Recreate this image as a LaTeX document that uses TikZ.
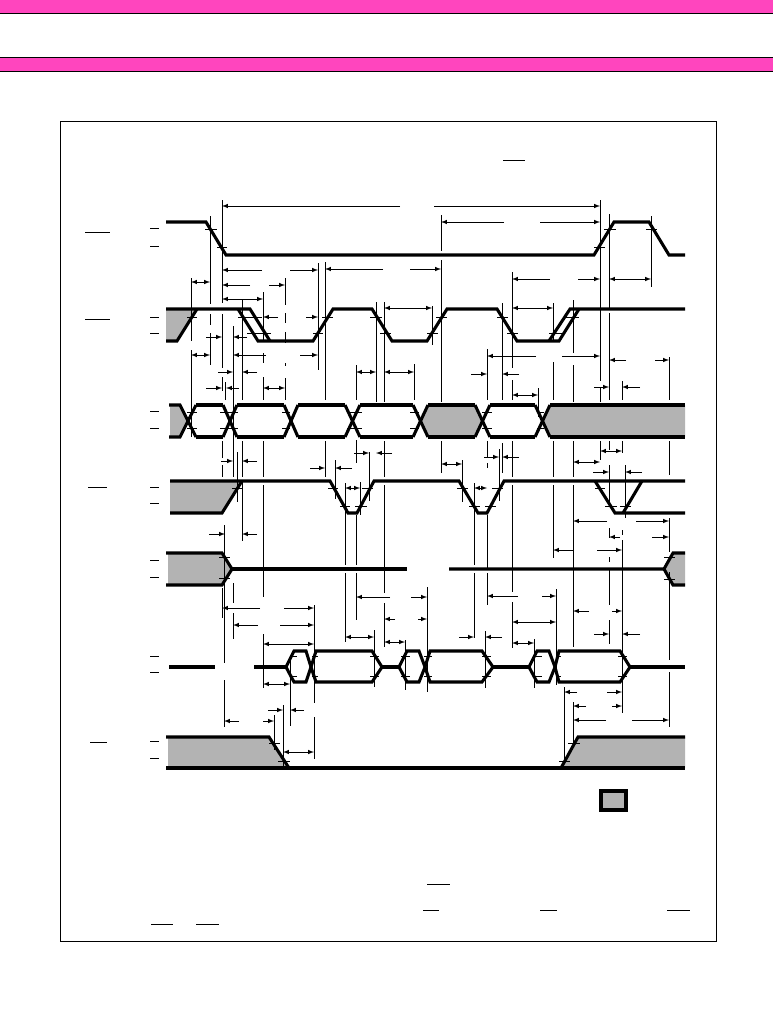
\documentclass[tikz,border=0pt]{standalone}
\usepackage{tikz}
\definecolor{colorband}{HTML}{FF45BE}
\definecolor{colorfill}{HTML}{B3B3B3}
\tikzset{
  wave/.style={black,line width=2.3pt,line join=miter},
  shade/.style={colorfill,draw=none},
  ext/.style={black,line width=0.55pt},
  mark1/.style={black,line width=0.6pt},
  dimone/.style={black,line width=0.55pt,-latex},
  dimtwo/.style={black,line width=0.55pt,latex-latex},
  frame1/.style={black,line width=0.7pt}
}
\begin{document}
\begin{tikzpicture}[x=0.75pt,y=-0.75pt]
\useasboundingbox (0,0) rectangle (773,1013);
% header bands and frame
\fill[colorband] (0,0) rectangle (773,13);
\fill[colorband] (0,57) rectangle (773,71);
\draw[frame1] (0,13) -- (773,13);
\draw[frame1] (0,57) -- (773,57);
\draw[frame1] (0,71) -- (773,71);
\draw[frame1] (60,121) rectangle (716,941);
% grey areas
\fill[shade] (166,309) -- (197,309) -- (177,341) -- (166,341) -- cycle;
\fill[shade] (170,405) -- (180,405) -- (188,421) -- (180,437) -- (170,437) -- cycle;
\fill[shade] (420,421) -- (428,405) -- (475,405) -- (482,421) -- (475,437) -- (428,437) -- cycle;
\fill[shade] (542,421) -- (550,405) -- (685,405) -- (685,437) -- (550,437) -- cycle;
\fill[shade] (170,481) -- (242,481) -- (222,513) -- (170,513) -- cycle;
\fill[shade] (168,553) -- (222,553) -- (232,569) -- (222,585) -- (168,585) -- cycle;
\fill[shade] (685,553) -- (673,553) -- (664,569) -- (673,585) -- (685,585) -- cycle;
\fill[shade] (168,737) -- (269,737) -- (289,768) -- (168,768) -- cycle;
\fill[shade] (561,768) -- (578,737) -- (685,737) -- (685,768) -- cycle;
% extension lines
\foreach \x/\ya/\yb in {
  191/278/341, 191/350/437,
  210/216/304, 210/314/325, 210/333/365,
  222/200/303, 222/314/368, 222/377/391, 222/441/458, 222/465/477, 222/588/618,
  225/382/400, 224/525/663, 224/680/727,
  233/326/477, 233/583/603, 233/613/639, 237/452/502,
  242/300/400, 242/441/477, 242/480/541,
  263/292/342, 263/353/363, 263/377/400, 263/441/477, 263/485/597, 263/634/688,
  285/278/305, 285/313/323, 285/332/343, 285/363/366, 285/378/400,
  290/657/726, 314/605/703, 314/717/759, 274/715/750, 283/705/770,
  318/263/370, 325/262/400, 325/441/477, 335/460/499,
  345/483/565, 345/573/642, 356/365/400, 356/440/463, 356/515/565, 356/573/620,
  360/482/515, 369/452/501, 374/630/687, 376/302/402,
  384/302/402, 384/441/477, 384/485/593, 384/603/647,
  405/640/690, 414/364/400, 427/587/692, 432/306/345,
  441/215/251, 441/260/402, 441/441/473, 462/460/502,
  474/483/565, 474/573/638, 485/631/688,
  487/349/400, 487/441/458, 487/463/468, 487/515/570, 487/573/605,
  499/449/501, 502/303/400, 502/443/473,
  512/272/368, 512/380/400, 512/441/477, 512/485/592, 512/602/648,
  534/639/688, 538/388/417, 553/303/342, 553/362/400, 553/441/477, 553/485/558,
  556/589/685, 564/687/762, 573/300/353, 573/365/402, 573/441/477, 573/485/647, 573/702/743,
  600/200/381, 600/388/402, 600/441/460,
  609/214/310, 609/313/400, 609/441/450, 609/465/507, 609/528/538, 609/557/562, 609/570/605, 609/620/644,
  622/381/400, 622/441/453, 622/530/535, 622/540/713, 625/465/518,
  651/216/287, 669/357/400, 669/441/475, 669/518/552, 669/572/660, 669/672/727}
  \draw[ext] (\x,\ya) -- (\x,\yb);
% dimension arrows with a gap for the label
\foreach \y/\a/\b/\c/\d in {
  206/400/222/434/600, 222/504/441/540/600, 270/262/222/290/318, 269/383/325/410/441,
  285/250/222/269/285, 317/278/263/306/318, 337/247/233/206/222, 355/266/233/300/318,
  372/257/242/218/233, 388/239/226/206/222, 356/536/487/562/600, 279/550/512/578/600,
  360/626/609/655/669, 374/519/502/471/487, 387/640/622/594/609,
  461/257/242/221/233, 468/352/335/310/325, 453/392/376/354/369, 534/257/242/209/225,
  608/260/222/284/314, 625/258/233/280/314, 597/390/356/411/427, 619/395/384/418/427,
  457/519/502/484/499, 472/642/625/593/609, 521/607/573/636/669, 537/620/609/652/669,
  550/574/553/597/622, 596/518/487/542/556, 637/502/485/459/474, 611/589/573/612/622,
  634/640/622/594/609, 692/577/564/607/622, 706/586/573/612/622, 720/606/573/632/669,
  721/239/224/263/274, 710/304/290/268/283}
{
  \draw[dimone] (\a,\y) -- (\b,\y);
  \draw[dimone] (\c,\y) -- (\d,\y);
}
\foreach \y/\a/\b in {
  282/191/210, 299/222/263, 308/384/432, 355/191/210, 388/263/285, 372/356/376, 372/384/414,
  279/609/651, 308/512/553, 395/512/538, 488/345/360, 644/263/314, 684/263/290, 637/345/374,
  642/384/405, 464/441/462, 488/474/487, 451/600/622, 462/573/600, 622/512/556, 643/512/534,
  752/283/314}
  \draw[dimtwo] (\a,\y) -- (\b,\y);
% tick marks on the signal edges
\foreach \y/\a/\b in {
  229/205/217, 247/217/227, 247/594/605, 229/604/616, 229/646/657,
  317/187/197, 317/238/250, 317/250/262, 333/247/259, 333/259/271, 333/313/323, 317/322/333,
  317/370/382, 333/380/391, 333/427/438, 317/436/447, 317/497/508, 333/507/518, 333/549/562, 317/563/579,
  412/187/197, 428/187/197, 412/220/238, 428/220/238, 412/282/290, 428/282/290, 412/347/362, 428/347/362,
  412/410/419, 428/410/419, 412/482/492, 428/482/492, 412/537/544, 428/537/544,
  488/328/338, 488/362/373, 506/340/350, 506/355/367, 488/457/468, 488/492/503, 506/469/480, 506/485/496,
  488/595/605, 506/605/617, 506/620/631,
  488/232/242,
  557/219/230, 578/219/230, 557/664/675, 579/664/675,
  656/291/297, 676/290/297, 656/312/318, 676/312/318, 656/370/379, 676/370/379,
  656/401/410, 676/401/410, 656/424/432, 676/424/432, 656/482/491, 676/482/491,
  656/533/542, 676/533/542, 656/556/561, 676/556/561, 656/618/627, 676/618/627,
  743/269/280, 761/278/290, 761/559/570, 743/568/580,
  228/150/159, 246/150/159, 317/150/159, 333/150/159, 411/150/159, 428/150/159,
  487/150/159, 503/150/159, 560/150/159, 577/150/159, 656/150/159, 672/150/159, 741/150/159, 758/150/159}
  \draw[mark1] (\a,\y) -- (\b,\y);
% bars kept over the signal names
\foreach \y/\a/\b in {
  160/503/525, 232/85/110, 319/85/110, 487/88/107, 742/90/107,
  924/151/173, 924/196/219, 884/427/450, 910/423/439, 910/540/557, 910/667/690}
  \draw[mark1] (\a,\y) -- (\b,\y);
% signals
\draw[wave] (166,222) -- (206,222) -- (226,255) -- (594,255) -- (614,222) -- (649,222) -- (669,255) -- (685,255);
\draw[wave] (166,341) -- (177,341) -- (197,309);
\draw[wave] (166,309) -- (250,309) -- (270,341);
\draw[wave] (238,309) -- (258,341) -- (313,341) -- (333,309) -- (372,309) -- (392,341) -- (427,341) -- (447,309)
  -- (497,309) -- (517,341) -- (559,341) -- (579,309);
\draw[wave] (549,341) -- (570,309) -- (685,309);
\foreach \ua/\ub in {196/223, 237/284, 298/345, 360/413, 428/475, 490/535, 550/685}
{
  \draw[wave] (\ua,405) -- (\ub,405);
  \draw[wave] (\ua,437) -- (\ub,437);
}
\draw[wave] (169,405) -- (180,405) -- (196,437);
\draw[wave] (169,437) -- (180,437) -- (196,405);
\foreach \ua/\ub in {223/237, 284/298, 345/360, 413/428, 475/490, 535/550}
{
  \draw[wave] (\ua,405) -- (\ub,437);
  \draw[wave] (\ua,437) -- (\ub,405);
}
\draw[wave] (170,513) -- (222,513) -- (242,481);
\draw[wave] (170,481) -- (330,481) -- (348,513) -- (357,513) -- (374,481) -- (459,481) -- (478,513) -- (487,513) -- (504,481) -- (685,481);
\draw[wave] (595,481) -- (615,513) -- (685,513);
\draw[wave] (623,513) -- (642,481);
\draw[wave] (166,553) -- (222,553) -- (232,569) -- (222,585) -- (166,585);
\draw[wave] (232,569) -- (407,569);
\draw[wave] (449,569) -- (664,569) -- (673,553) -- (685,553);
\draw[wave] (664,569) -- (673,585) -- (685,585);
\draw[wave] (169,667) -- (215,667);
\draw[wave] (254,667) -- (286,667);
\foreach \pa/\qa/\qb/\pb in {286/294/306/311, 311/316/372/382, 399/407/419/425, 425/430/482/493, 529/537/549/555, 555/559/620/630}
  \draw[wave] (\pa,667) -- (\qa,651) -- (\qb,651) -- (\pb,667) -- (\qb,682) -- (\qa,682) -- cycle;
\draw[wave] (382,667) -- (399,667);
\draw[wave] (493,667) -- (529,667);
\draw[wave] (630,667) -- (685,667);
\draw[wave] (166,737) -- (269,737) -- (289,768);
\draw[wave] (166,768) -- (685,768);
\draw[wave] (561,768) -- (578,737) -- (685,737);
% legend box
\draw[black,line width=2.8pt,fill=colorfill] (601,791) rectangle (626,810);
\end{tikzpicture}
\end{document}
